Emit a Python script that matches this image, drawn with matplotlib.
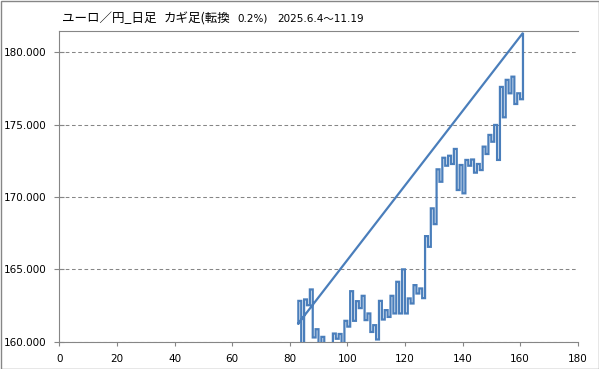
import matplotlib
matplotlib.use("Agg")
import matplotlib.pyplot as plt
from matplotlib.patches import Rectangle
from matplotlib.ticker import FormatStrFormatter, MultipleLocator

# ---- data ----
title_main = "ユーロ／円_日足"
title_kind = "カギ足(転換"
title_pct = "0.2%)"
title_period = "2025.6.4～11.19"

x_start = 83  # x of the first kagi column
# turning values of the kagi line: start level, then alternating highs / lows
kagi_levels = [
    161.25,
    162.81, 159.6, 162.91, 162.51, 163.60, 160.28, 160.85, 159.5, 160.32, 159.4,
    159.8, 159.3, 160.55, 160.19, 160.52, 159.6, 161.43, 161.03, 163.48, 161.43,
    162.79, 162.31, 163.16, 161.48, 161.94, 160.66, 161.13, 160.14, 162.81, 161.52,
    162.17, 161.70, 163.16, 161.94, 164.13, 161.94, 164.99, 161.94, 162.98, 162.63,
    163.90, 163.32, 163.67, 163.00, 167.29, 166.55, 169.21, 168.12, 171.91, 171.05,
    172.71, 172.16, 172.85, 172.28, 173.32, 170.48, 172.21, 170.25, 172.56, 172.16,
    172.59, 171.68, 172.28, 171.86, 173.48, 172.97, 174.29, 173.82, 174.98, 172.56,
    177.61, 175.51, 178.10, 177.17, 178.32, 176.43, 177.17, 176.76, 181.35,
]

x_ticks = [0, 20, 40, 60, 80, 100, 120, 140, 160, 180]
y_ticks = [160, 165, 170, 175, 180]

# ---- build kagi path ----
xs, ys = [x_start], [kagi_levels[0]]
for k in range(1, len(kagi_levels)):
    col = x_start + (k - 1)
    xs.append(col); ys.append(kagi_levels[k])
    if k < len(kagi_levels) - 1:
        xs.append(col + 1); ys.append(kagi_levels[k])
# series closes back to its first point
xs.append(xs[0]); ys.append(ys[0])

W, H = 599, 369
fig = plt.figure(figsize=(W / 100, H / 100), dpi=100)
ax = fig.add_axes([59.3 / W, 1 - 341.5 / H, (577.7 - 59.3) / W, (341.5 - 30.7) / H])

grey = "#868686"
ax.plot(xs, ys, color="#4a7ebb", lw=1.6, solid_joinstyle="miter", zorder=3)

ax.set_xlim(0, 180)
ax.set_ylim(160, 181.5)
ax.set_xticks(x_ticks)
ax.set_yticks(y_ticks)
ax.yaxis.set_major_formatter(FormatStrFormatter("%.3f"))
for y in y_ticks:
    ax.axhline(y, color=grey, lw=0.75, dashes=(3.5, 2.5), zorder=1)

for s in ["left", "bottom", "top"]:
    ax.spines[s].set_color(grey)
    ax.spines[s].set_linewidth(0.8)
ax.spines["right"].set_visible(False)

ax.tick_params(axis="y", direction="inout", length=6.5, width=0.8, color=grey,
               labelsize=7.5, pad=6, labelcolor="#000000")
ax.tick_params(axis="x", direction="out", length=3, width=0.8, color=grey,
               labelsize=7.5, pad=6, labelcolor="#000000")
for lab in ax.get_xticklabels() + ax.get_yticklabels():
    lab.set_fontfamily("DejaVu Sans")

cjk = ["Noto Sans CJK JP", "DejaVu Sans"]
ty = 1 - 18.5 / H
fig.text(61.5 / W, ty, title_main, family=cjk, fontsize=9, va="center", ha="left")
fig.text(164 / W, ty, title_kind, family=cjk, fontsize=9, va="center", ha="left")
fig.text(237 / W, ty, title_pct, family=["DejaVu Sans", "Noto Sans CJK JP"], fontsize=7.5,
         va="center", ha="left")
fig.text(277 / W, ty, title_period, family=["DejaVu Sans", "Noto Sans CJK JP"], fontsize=7.5,
         va="center", ha="left")

fig.patches.append(Rectangle((0.5 / W, 0.5 / H), 1 - 1.0 / W, 1 - 1.0 / H,
                             transform=fig.transFigure, fill=False,
                             edgecolor=grey, lw=1.0))

fig.savefig("out.png", dpi=100)
